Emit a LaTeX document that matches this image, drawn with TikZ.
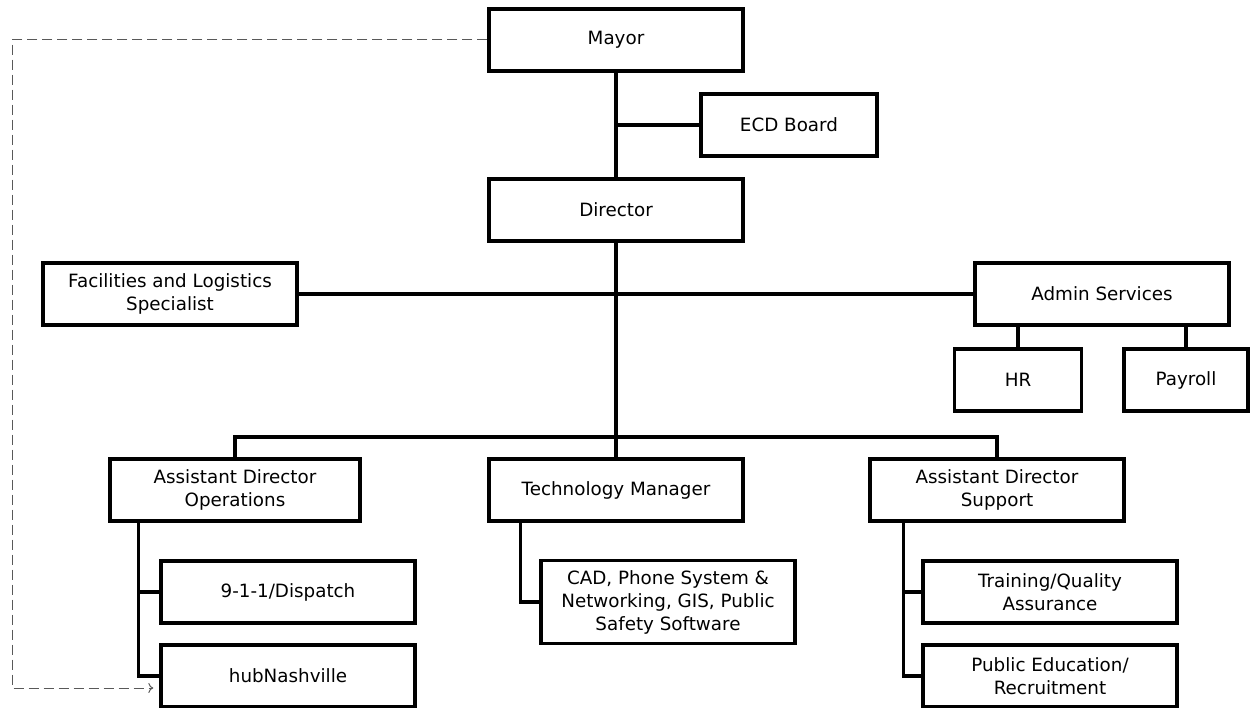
\documentclass[tikz,border=0pt]{standalone}
\usepackage{fontspec}
\setmainfont{DejaVu Sans}
\usetikzlibrary{arrows.meta}

\begin{document}
\begin{tikzpicture}[x=1pt,y=-1pt,
    box/.style={draw, line width=3.4pt, minimum width=254pt, minimum height=62pt,
        align=center, inner sep=0pt, font=\fontsize{18.3}{23}\selectfont},
    conn/.style={line width=3.4pt},
    dotlink/.style={dash pattern=on 10pt off 5pt, gray!70!black, line width=1pt, -{To[length=5pt,width=10pt]}}]

        % 画布范围
        \useasboundingbox (0,0) rectangle (1250,708);

        % 上层
        \node[box] (mayor) at (616,40) {Mayor};
        \node[box, minimum width=176pt] (ecd) at (789,125) {ECD Board};
        \node[box] (director) at (616,210) {Director};

        % 中层
        \node[box] (facil) at (170,294) {Facilities and Logistics\\Specialist};
        \node[box] (admin) at (1102,294) {Admin Services};
        \node[box, minimum width=127pt] (hr) at (1018,380) {HR};
        \node[box, minimum width=124pt] (payroll) at (1186,380) {Payroll};

        % 下层
        \node[box, minimum width=250pt] (adops) at (235,490) {Assistant Director\\Operations};
        \node[box] (tech) at (616,490) {Technology Manager};
        \node[box] (adsup) at (997,490) {Assistant Director\\Support};

        \node[box] (dispatch) at (288,592) {9-1-1/Dispatch};
        \node[box] (hub) at (288,676) {hubNashville};
        \node[box, minimum height=83pt] (cad) at (668,602) {CAD, Phone System \&\\Networking, GIS, Public\\Safety Software};
        \node[box] (training) at (1050,592) {Training/Quality\\Assurance};
        \node[box] (pubed) at (1050,676) {Public Education/\\Recruitment};

        % 连线
        \coordinate (bus) at (616,437);
        \draw[conn] (mayor.south) -- (director.north);
        \draw[conn] (mayor.south |- ecd.west) -- (ecd.west);
        \draw[conn] (director.south) -- (tech.north);
        \draw[conn] (facil.east) -- (admin.west);
        \draw[conn] (adops.north) |- (bus) -| (adsup.north);
        \draw[conn] (hr.north) -- (hr.north |- admin.south);
        \draw[conn] (payroll.north) -- (payroll.north |- admin.south);

        \draw[conn] ([xshift=30pt]adops.south west) |- (dispatch.west);
        \draw[conn] ([xshift=30pt]adops.south west) |- (hub.west);
        \draw[conn] ([xshift=33pt]tech.south west) |- (cad.west);
        \draw[conn] ([xshift=35pt]adsup.south west) |- (training.west);
        \draw[conn] ([xshift=35pt]adsup.south west) |- (pubed.west);

        % 虚线箭头
        \coordinate (turn) at (12,40);
        \draw[dotlink] (mayor.west) -- (turn) |- ([xshift=-6pt,yshift=-12pt]hub.west);

    \end{tikzpicture}
\end{document}
